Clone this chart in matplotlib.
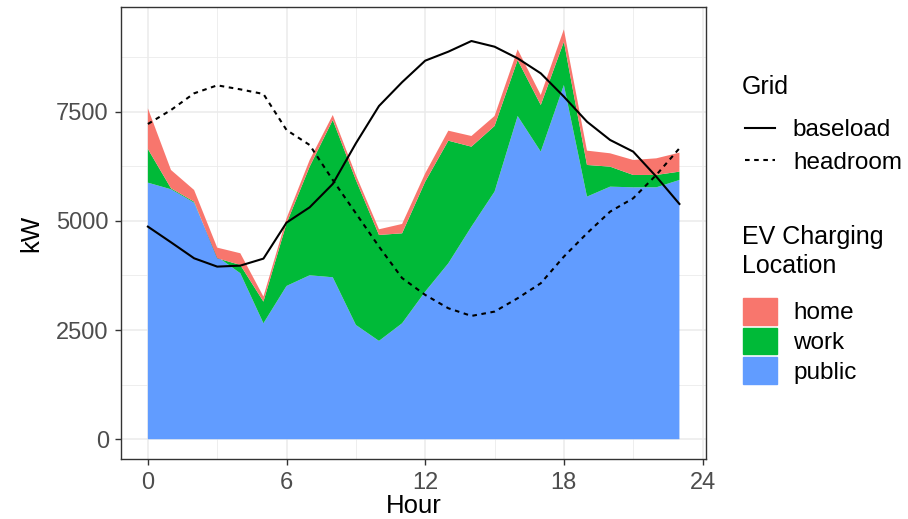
import matplotlib.pyplot as plt
from matplotlib.lines import Line2D
from matplotlib.patches import Patch
import numpy as np

plt.rcParams['font.family'] = ['Liberation Sans', 'DejaVu Sans']

hours = list(range(24))

# stacked tops (kW)
public_top = [5875, 5723, 5417, 4181, 3800, 2655, 3510, 3754, 3708, 2617, 2251, 2655,
              3380, 4028, 4868, 5669, 7401, 6585, 8111, 5555, 5783, 5768, 5768, 5936]
work_top = [6646, 5745, 5440, 4143, 3990, 3151, 4944, 6241, 7310, 5936, 4677, 4715,
            5898, 6836, 6699, 7172, 8683, 7653, 9102, 6280, 6241, 6051, 6051, 6127]
home_top = [7577, 6165, 5707, 4387, 4258, 3266, 5059, 6394, 7424, 6050, 4807, 4929,
            6089, 7065, 6943, 7401, 8927, 7882, 9385, 6608, 6547, 6394, 6432, 6562]

baseload = [4868, 4509, 4143, 3952, 3975, 4135, 4960, 5310, 5845, 6775, 7630, 8175,
            8668, 8874, 9118, 8988, 8721, 8378, 7844, 7271, 6852, 6585, 6012, 5387]
headroom = [7218, 7538, 7920, 8103, 8011, 7905, 7080, 6737, 5936, 5173, 4410, 3690,
            3304, 2999, 2823, 2922, 3228, 3571, 4181, 4715, 5211, 5517, 6051, 6661]

public = np.array(public_top)
work = np.array(work_top) - public
home = np.array(home_top) - np.array(work_top)

col_home = '#F8766D'
col_work = '#00BA38'
col_public = '#619CFF'

W, H = 908, 519
fig = plt.figure(figsize=(9.08, 5.19), dpi=100)
ax = fig.add_axes([121.3 / W, 1 - 459.3 / H, (706 - 121.3) / W, (459.3 - 7.3) / H])

ax.stackplot(hours, public, work, home, colors=[col_public, col_work, col_home],
             linewidth=0, zorder=2)
ax.plot(hours, baseload, color='black', lw=1.5, zorder=3)
ax.plot(hours, headroom, color='black', lw=1.5, dashes=(2.2, 2.2), zorder=3)

ax.set_xlim(-1.15, 24.15)
ax.set_ylim(-460, 9890)
ax.set_xticks([0, 6, 12, 18, 24])
ax.set_xticks([3, 9, 15, 21], minor=True)
ax.set_yticks([0, 2500, 5000, 7500])
ax.set_yticks([1250, 3750, 6250, 8750], minor=True)
ax.grid(which='major', color='#EBEBEB', lw=1.1, zorder=0)
ax.grid(which='minor', color='#EBEBEB', lw=0.6, zorder=0)
ax.set_axisbelow(True)
for s in ax.spines.values():
    s.set_color('#333333')
    s.set_linewidth(1.0)
ax.tick_params(which='major', length=4, width=1, color='#333333',
               labelsize=17, labelcolor='#4D4D4D', pad=5)
ax.tick_params(which='minor', length=0)

ax.set_xlabel('Hour', fontsize=18.5, labelpad=0.5)
ax.set_ylabel('kW', fontsize=18.5, labelpad=9)

# legend titles
fig.text(742 / W, 1 - 87 / H, 'Grid', fontsize=18, va='center', ha='left')
fig.text(742 / W, 1 - 237 / H, 'EV Charging', fontsize=18, va='center', ha='left')
fig.text(742 / W, 1 - 266 / H, 'Location', fontsize=18, va='center', ha='left')

grid_handles = [Line2D([], [], color='black', lw=1.5),
                Line2D([], [], color='black', lw=1.5, dashes=(2.2, 2.2))]
leg1 = fig.legend(grid_handles, ['baseload', 'headroom'],
                  loc='center left', bbox_to_anchor=(745 / W, 1 - 146.5 / H),
                  frameon=False, fontsize=17.5, borderpad=0,
                  handlelength=1.23, handletextpad=0.74, labelspacing=0.42,
                  borderaxespad=0)

ev_handles = [Patch(color=col_home), Patch(color=col_work), Patch(color=col_public)]
leg2 = fig.legend(ev_handles, ['home', 'work', 'public'],
                  loc='center left', bbox_to_anchor=(743 / W, 1 - 341 / H),
                  frameon=False, fontsize=17.5, borderpad=0,
                  handlelength=1.4, handleheight=1.32, handletextpad=0.66,
                  labelspacing=0.12, borderaxespad=0)

fig.savefig('out.png', dpi=100)
